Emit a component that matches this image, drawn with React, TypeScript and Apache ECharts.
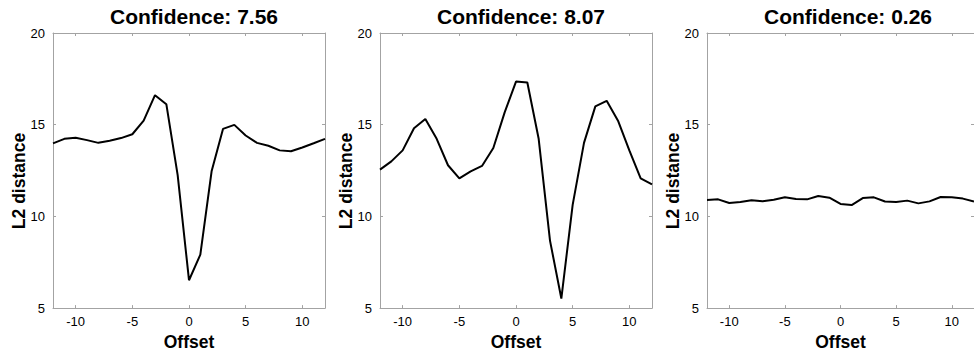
import React, { useEffect, useRef } from "react";
import * as echarts from "echarts";

const offsets = [-12, -11, -10, -9, -8, -7, -6, -5, -4, -3, -2, -1, 0, 1, 2, 3, 4, 5, 6, 7, 8, 9, 10, 11, 12];
const titles = ["Confidence: 7.56", "Confidence: 8.07", "Confidence: 0.26"];
const seriesA = [13.98, 14.23, 14.29, 14.16, 14.01, 14.12, 14.27, 14.48, 15.22, 16.61, 16.12, 12.25, 6.52, 7.92, 12.48, 14.77, 14.99, 14.41, 14.01, 13.85, 13.6, 13.55, 13.76, 13.99, 14.23];
const seriesB = [12.55, 13.0, 13.6, 14.81, 15.31, 14.23, 12.79, 12.07, 12.46, 12.75, 13.73, 15.67, 17.35, 17.3, 14.23, 8.68, 5.52, 10.63, 14.01, 16.0, 16.3, 15.22, 13.6, 12.07, 11.74];
const seriesC = [10.9, 10.93, 10.73, 10.79, 10.88, 10.82, 10.91, 11.04, 10.95, 10.93, 11.11, 11.02, 10.68, 10.62, 11.0, 11.04, 10.81, 10.79, 10.86, 10.71, 10.82, 11.06, 11.04, 10.97, 10.81];
const xTicks = [-10, -5, 0, 5, 10];
const yTicks = [5, 10, 15, 20];
const yName = "L2 distance";
const xName = "Offset";

const allSeries = [seriesA, seriesB, seriesC];
const FONT = "'Liberation Sans', Arial, Helvetica, sans-serif";
const AXIS_COLOR = "#a3a3a3";

export default function App() {
  const ref = useRef<HTMLDivElement>(null);
  useEffect(() => {
    document.body.style.margin = "0";
    if (!ref.current) return;
    const chart = echarts.init(ref.current, undefined, { renderer: "svg" });
    const lefts = [53, 380, 707];
    const W = 272;
    const grids: any[] = [];
    const xAxes: any[] = [];
    const yAxes: any[] = [];
    const series: any[] = [];
    const title: any[] = [];
    const graphic: any[] = [];
    lefts.forEach((l, i) => {
      grids.push({ left: l, top: 33, width: W, height: 278, containLabel: false });
      title.push({
        text: titles[i],
        left: l + W / 2,
        top: 1,
        textAlign: "center",
        textStyle: { fontFamily: FONT, fontWeight: "bold", fontSize: 21, color: "#000" },
      });
      graphic.push({
        type: "text",
        x: l - 34,
        y: 181,
        rotation: Math.PI / 2,
        style: {
          text: yName,
          font: `bold 17.5px ${FONT}`,
          fill: "#000",
          align: "center",
          verticalAlign: "middle",
          textAlign: "center",
          textVerticalAlign: "middle",
        },
      });
      const tickCommon = { show: true, inside: true, length: 3, lineStyle: { color: AXIS_COLOR, width: 1 } };
      const lineCommon = { show: true, onZero: false, lineStyle: { color: AXIS_COLOR, width: 1 } };
      xAxes.push({
        type: "value",
        gridIndex: i,
        position: "bottom",
        min: -12,
        max: 12,
        axisLine: lineCommon,
        axisTick: { ...tickCommon, customValues: xTicks },
        axisLabel: { customValues: xTicks, fontFamily: FONT, fontSize: 13, color: "#000", margin: 7 },
        splitLine: { show: false },
        name: xName,
        nameLocation: "middle",
        nameGap: 22,
        nameTextStyle: { fontFamily: FONT, fontWeight: "bold", fontSize: 17.5, color: "#000" },
      });
      xAxes.push({
        type: "value",
        gridIndex: i,
        position: "top",
        min: -12,
        max: 12,
        axisLine: lineCommon,
        axisTick: { ...tickCommon, customValues: xTicks },
        axisLabel: { show: false, customValues: xTicks },
        splitLine: { show: false },
      });
      yAxes.push({
        type: "value",
        gridIndex: i,
        position: "left",
        min: 5,
        max: 20,
        interval: 5,
        axisLine: lineCommon,
        axisTick: { ...tickCommon, customValues: yTicks },
        axisLabel: { customValues: yTicks, fontFamily: FONT, fontSize: 13, color: "#000", margin: 8 },
        splitLine: { show: false },
      });
      yAxes.push({
        type: "value",
        gridIndex: i,
        position: "right",
        min: 5,
        max: 20,
        interval: 5,
        axisLine: lineCommon,
        axisTick: tickCommon,
        axisLabel: { show: false },
        splitLine: { show: false },
      });
      series.push({
        type: "line",
        xAxisIndex: i * 2,
        yAxisIndex: i * 2,
        data: offsets.map((x, k) => [x, allSeries[i][k]]),
        showSymbol: false,
        symbol: "none",
        lineStyle: { color: "#000", width: 2 },
        clip: true,
      });
    });
    chart.setOption({
      animation: false,
      backgroundColor: "#fff",
      title,
      grid: grids,
      xAxis: xAxes,
      yAxis: yAxes,
      series,
      graphic,
    });
    return () => chart.dispose();
  }, []);
  return <div ref={ref} style={{ width: 974, height: 356 }} />;
}
